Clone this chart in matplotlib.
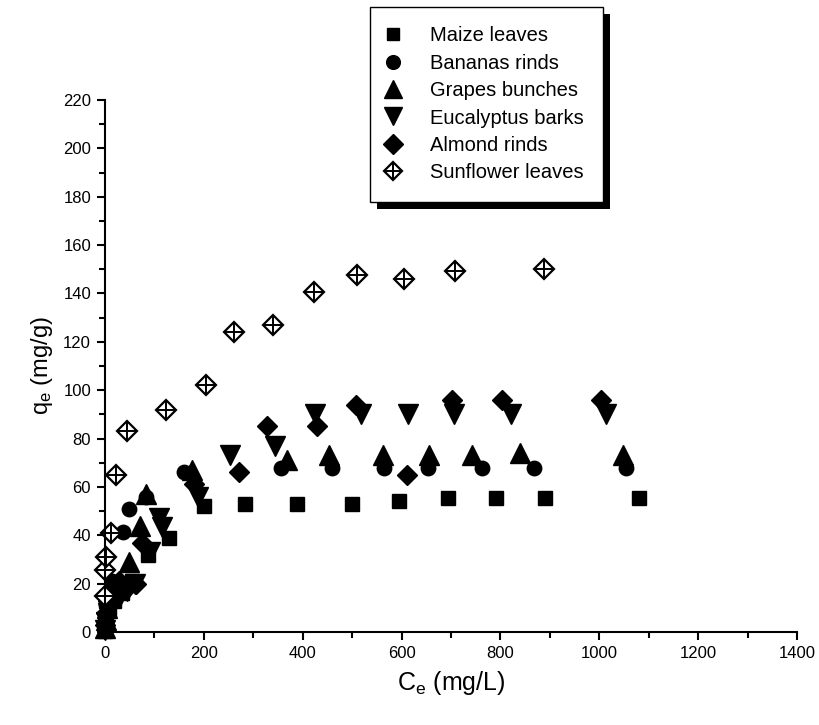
import matplotlib
matplotlib.use('Agg')
import matplotlib.pyplot as plt
from matplotlib.patches import Rectangle
from matplotlib.ticker import MultipleLocator
from matplotlib.legend_handler import HandlerTuple

plt.rcParams['font.family'] = ['Liberation Sans', 'DejaVu Sans']

# Ce (mg/L) / qe (mg/g)
maize_ce = [0.3, 1, 3, 8, 18, 35, 55, 88, 129, 200, 284, 388, 499, 594, 694, 791, 891, 1080]
maize_qe = [0.5, 2, 5, 9, 13, 16, 21, 32, 39, 52, 53, 53, 53, 54, 55.5, 55.5, 55.5, 55.5]

banana_ce = [0.3, 1, 3, 8, 15, 37, 48, 82, 159, 357, 459, 565, 654, 762, 867, 1054]
banana_qe = [2, 6, 11, 16, 21, 41.5, 51, 56, 66, 68, 68, 68, 68, 68, 68, 68]

grape_ce = [0.3, 1.5, 5, 12, 25, 48, 70, 82, 176, 368, 453, 562, 656, 742, 840, 1048]
grape_qe = [1.5, 5, 10, 15, 20, 29, 44, 57, 67, 71, 73, 73, 73, 73, 74, 73]

euca_ce = [0.5, 2, 6, 15, 30, 45, 60, 92, 110, 116, 188, 253, 344, 425, 518, 614, 706, 822, 1014]
euca_qe = [1, 4, 8, 12, 15, 17, 20, 33, 47, 43.5, 56, 73, 77, 90, 90, 90, 90, 90, 90]

almond_ce = [0.5, 2, 6, 15, 28, 45, 62, 75, 180, 272, 327, 428, 508, 611, 703, 803, 1004]
almond_qe = [3, 8, 13, 17, 21, 18, 20, 37, 61, 66, 85, 85, 94, 65, 96, 96, 96]

sun_ce = [0.5, 1, 2, 12, 22, 44, 123, 205, 260, 340, 422, 510, 605, 708, 889]
sun_qe = [15, 25.6, 31, 41, 65, 83, 92, 102, 124, 127, 140.5, 147.5, 146, 149.3, 150]

labels = ['Maize leaves', 'Bananas rinds', 'Grapes bunches', 'Eucalyptus barks',
          'Almond rinds', 'Sunflower leaves']

fig = plt.figure(figsize=(8.19, 7.25), dpi=100)
ax = fig.add_axes([105 / 819, 1 - 632 / 725, (797 - 105) / 819, (632 - 100) / 725])

kw = dict(linestyle='none', color='black', clip_on=False)
h1, = ax.plot(maize_ce, maize_qe, marker='s', markersize=9.6, **kw)
h2, = ax.plot(banana_ce, banana_qe, marker='o', markersize=10.4, **kw)
h3, = ax.plot(grape_ce, grape_qe, marker='^', markersize=14, **kw)
h4, = ax.plot(euca_ce, euca_qe, marker='v', markersize=14, **kw)
h5, = ax.plot(almond_ce, almond_qe, marker='D', markersize=10.2, **kw)
h6a, = ax.plot(sun_ce, sun_qe, marker='D', markersize=9.8, markerfacecolor='white',
               markeredgecolor='black', markeredgewidth=1.6, linestyle='none', clip_on=False)
h6b, = ax.plot(sun_ce, sun_qe, marker='+', markersize=13.6, markeredgewidth=1.4,
               color='black', linestyle='none', clip_on=False)

ax.set_xlim(0, 1400)
ax.set_ylim(0, 220)
ax.xaxis.set_major_locator(MultipleLocator(200))
ax.xaxis.set_minor_locator(MultipleLocator(100))
ax.yaxis.set_major_locator(MultipleLocator(20))
ax.yaxis.set_minor_locator(MultipleLocator(10))

for side in ['top', 'right']:
    ax.spines[side].set_visible(False)
for side in ['left', 'bottom']:
    ax.spines[side].set_linewidth(1.5)
ax.tick_params(which='major', direction='out', length=6, width=1.5, labelsize=12, pad=4)
ax.tick_params(which='minor', direction='out', length=4, width=1.5)

ax.set_xlabel(r'$\mathregular{C_e}$ (mg/L)', fontsize=18, labelpad=6)
ax.set_ylabel(r'$\mathregular{q_e}$ (mg/g)', fontsize=17, labelpad=6)

leg = fig.legend([h1, h2, h3, h4, h5, (h6a, h6b)], labels,
                 handler_map={tuple: HandlerTuple(ndivide=1)},
                 loc='upper left', bbox_to_anchor=(370 / 819, 1 - 7 / 725),
                 fontsize=14.5, frameon=True, fancybox=False, edgecolor='black',
                 framealpha=1, borderpad=0.95, labelspacing=0.42, handlelength=0.4,
                 handletextpad=1.65, borderaxespad=0, markerscale=0.95)
leg.get_frame().set_linewidth(1.0)

# black drop shadow behind the legend box
fig.canvas.draw()
bb = leg.get_window_extent()
W, H = fig.bbox.width, fig.bbox.height
fig.patches.append(Rectangle(((bb.x0 + 7) / W, (bb.y0 - 7) / H), bb.width / W, bb.height / H,
                             transform=fig.transFigure, facecolor='black', edgecolor='none',
                             zorder=4))

fig.savefig('out.png', dpi=100)
